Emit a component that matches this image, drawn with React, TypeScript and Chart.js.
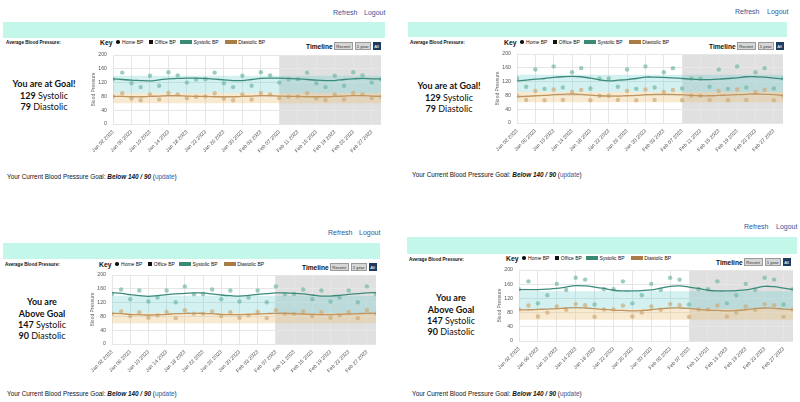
import React, { useEffect, useRef } from "react";
import { Chart, registerables } from "chart.js";
Chart.register(...registerables);

// ---------- data ----------
const readingDates = [
  "2023-01-02", "2023-01-04", "2023-01-06", "2023-01-08", "2023-01-10", "2023-01-12",
  "2023-01-14", "2023-01-16", "2023-01-18", "2023-01-20", "2023-01-22", "2023-01-24",
  "2023-01-26", "2023-01-28", "2023-01-30", "2023-02-01", "2023-02-03", "2023-02-05",
  "2023-02-07", "2023-02-09", "2023-02-11", "2023-02-13", "2023-02-15", "2023-02-17",
  "2023-02-19", "2023-02-21", "2023-02-23", "2023-02-25", "2023-02-27", "2023-03-01",
];
const axisStartDate = "2023-01-02";
const axisEndDate = "2023-03-01";
const recentStartDate = "2023-02-07";
const tickStepDays = 4;
const MONTHS = ["Jan", "Feb", "Mar", "Apr", "May", "Jun", "Jul", "Aug", "Sep", "Oct", "Nov", "Dec"];

const goalSystolic = 140;
const goalDiastolic = 90;
const diastolicFloor = 60;
const yTicks = [0, 40, 80, 120, 160, 200];

// Panel 1 (top-left)
const p1Systolic = [130, 149, 118, 107, 140, 111, 150, 141, 120, 129, 130, 149, 118, 107, 140, 111, 150, 141, 120, 129, 130, 149, 118, 107, 140, 111, 150, 141, 120, 129];
const p1Diastolic = [80, 89, 74, 69, 86, 71, 90, 86, 75, 79, 80, 89, 74, 69, 86, 71, 90, 86, 75, 79, 80, 89, 74, 69, 86, 71, 90, 86, 75, 79];
const p1SysTrend = [131, 129, 127, 126, 125, 128, 131, 132, 133, 133, 132, 130, 128, 126, 126, 129, 132, 133, 133, 132, 131, 129, 127, 126, 126, 129, 131, 132, 131, 131];
const p1DiaTrend = [80, 80, 79, 79, 80, 81, 82, 82, 81, 80, 80, 79, 79, 79, 80, 81, 82, 82, 81, 80, 80, 79, 79, 79, 80, 81, 82, 82, 81, 80];

// Panel 2 (top-right)
const p2Systolic = [129, 105, 155, 99, 164, 103, 147, 159, 100, 129, 129, 105, 155, 99, 164, 103, 147, 159, 100, 129, 129, 105, 155, 99, 164, 103, 147, 159, 100, 129];
const p2Diastolic = [79, 67, 93, 66, 97, 67, 90, 96, 66, 79, 79, 67, 93, 66, 97, 67, 90, 96, 66, 79, 79, 67, 93, 66, 97, 67, 90, 96, 66, 79];
const p2SysTrend = [122, 124, 127, 129, 132, 134, 135, 134, 130, 125, 122, 124, 126, 129, 133, 133, 132, 131, 129, 127, 126, 126, 127, 129, 131, 134, 134, 133, 130, 128];
const p2DiaTrend = [76, 77, 79, 80, 82, 83, 84, 83, 81, 79, 78, 78, 79, 80, 82, 83, 83, 83, 82, 80, 79, 79, 80, 81, 82, 83, 84, 83, 82, 80];

// Panel 3 (bottom-left)
const p3Systolic = [145, 158, 130, 155, 123, 135, 155, 121, 167, 144, 145, 158, 130, 155, 123, 135, 155, 121, 167, 144, 145, 158, 130, 155, 123, 135, 155, 121, 167, 144];
const p3Diastolic = [88, 94, 81, 92, 76, 83, 93, 75, 98, 88, 88, 94, 81, 92, 76, 83, 93, 75, 98, 88, 88, 94, 81, 92, 76, 83, 93, 75, 98, 88];
const p3SysTrend = [149, 147, 143, 140, 138, 140, 143, 145, 147, 148, 148, 145, 142, 140, 139, 141, 144, 146, 148, 148, 147, 145, 142, 139, 139, 141, 144, 146, 148, 149];
const p3DiaTrend = [89, 88, 86, 85, 84, 85, 86, 88, 89, 89, 89, 88, 86, 85, 85, 86, 87, 88, 89, 89, 88, 87, 86, 85, 85, 86, 87, 88, 89, 89];

// Panel 4 (bottom-right)
const p4Systolic = [146, 168, 106, 129, 161, 144, 178, 173, 103, 146, 146, 168, 106, 129, 161, 144, 178, 173, 103, 146, 146, 168, 106, 129, 161, 144, 178, 173, 103, 146];
const p4Diastolic = [89, 100, 69, 80, 97, 88, 104, 101, 68, 89, 89, 100, 69, 80, 97, 88, 104, 101, 68, 89, 89, 100, 69, 80, 97, 88, 104, 101, 68, 89];
const p4SysTrend = [145, 145, 145, 146, 148, 152, 156, 155, 152, 148, 143, 141, 141, 142, 144, 149, 154, 155, 152, 148, 143, 141, 141, 142, 144, 149, 154, 153, 149, 145];
const p4DiaTrend = [88, 88, 89, 90, 91, 93, 94, 93, 91, 89, 87, 86, 85, 86, 88, 91, 93, 93, 92, 89, 87, 86, 85, 86, 88, 91, 93, 92, 90, 88];

const atGoalLines = ["You are at Goal!"];
const aboveGoalLines = ["You are", "Above Goal"];

// ---------- helpers ----------
const DAY = 86400000;
const parseUTC = (s: string) => {
  const [y, m, d] = s.split("-").map(Number);
  return Date.UTC(y, m - 1, d);
};
const dayIndex = (s: string) => Math.round((parseUTC(s) - parseUTC(axisStartDate)) / DAY);
const fmtTick = (v: number) => {
  const d = new Date(parseUTC(axisStartDate) + v * DAY);
  const dd = String(d.getUTCDate()).padStart(2, "0");
  return `${MONTHS[d.getUTCMonth()]} ${dd} ${d.getUTCFullYear()}`;
};

const SANS = "'Liberation Sans', Arial, Helvetica, sans-serif";
const LINK = "#34589a";

const panels = [
  {
    sys: p1Systolic, dia: p1Diastolic, sysT: p1SysTrend, diaT: p1DiaTrend,
    status: atGoalLines, avgSys: 129, avgDia: 79,
    L: {
      plot: { l: 113, r: 381, t: 55, b: 124 }, refresh: { x: 333, y: 12 }, logout: { x: 364, y: 12 },
      mint: { x: 3, y: 22, w: 382, h: 16 }, avg: { x: 6, y: 42 }, key: { x: 100, y: 42 },
      timeline: { x: 306, y: 46 }, status: { cx: 44, y: 84, gap: 11.5 }, goal: { x: 7, y: 177 },
    },
  },
  {
    sys: p2Systolic, dia: p2Diastolic, sysT: p2SysTrend, diaT: p2DiaTrend,
    status: atGoalLines, avgSys: 129, avgDia: 79,
    L: {
      plot: { l: 517, r: 783, t: 54, b: 123 }, refresh: { x: 735, y: 11 }, logout: { x: 767, y: 11 },
      mint: { x: 408, y: 22, w: 379, h: 15 }, avg: { x: 410, y: 42 }, key: { x: 504, y: 42 },
      timeline: { x: 709, y: 46 }, status: { cx: 449, y: 86, gap: 11.5 }, goal: { x: 412, y: 175 },
    },
  },
  {
    sys: p3Systolic, dia: p3Diastolic, sysT: p3SysTrend, diaT: p3DiaTrend,
    status: aboveGoalLines, avgSys: 147, avgDia: 90,
    L: {
      plot: { l: 112, r: 376, t: 275, b: 344 }, refresh: { x: 328, y: 232 }, logout: { x: 359, y: 232 },
      mint: { x: 3, y: 243, w: 377, h: 16 }, avg: { x: 5, y: 264 }, key: { x: 99, y: 264 },
      timeline: { x: 302, y: 267 }, status: { cx: 42, y: 302, gap: 11.3 }, goal: { x: 7, y: 394 },
    },
  },
  {
    sys: p4Systolic, dia: p4Diastolic, sysT: p4SysTrend, diaT: p4DiaTrend,
    status: aboveGoalLines, avgSys: 147, avgDia: 90,
    L: {
      plot: { l: 519, r: 793, t: 270, b: 341 }, refresh: { x: 744, y: 226 }, logout: { x: 776, y: 226 },
      mint: { x: 407, y: 237, w: 390, h: 17 }, avg: { x: 409, y: 259 }, key: { x: 506, y: 258 },
      timeline: { x: 716, y: 262 }, status: { cx: 451, y: 298, gap: 11.3 }, goal: { x: 412, y: 394 },
    },
  },
];

const Y_AXIS_W = 24;
const X_AXIS_H = 40;
const PAD_T = 6;
const PAD_R = 4;

const shadePlugin = {
  id: "recentShade",
  beforeDraw(chart: any) {
    const { ctx, chartArea, scales } = chart;
    const x0 = scales.x.getPixelForValue(dayIndex(recentStartDate));
    ctx.save();
    ctx.fillStyle = "#e0e0e0";
    ctx.fillRect(x0, chartArea.top, chartArea.right - x0, chartArea.bottom - chartArea.top);
    ctx.restore();
  },
};

function BPChart({ p }: { p: any }) {
  const ref = useRef<HTMLCanvasElement>(null);
  const { plot } = p.L;
  const w = plot.r - plot.l + Y_AXIS_W + PAD_R;
  const h = plot.b - plot.t + PAD_T + X_AXIS_H;
  useEffect(() => {
    const xs = readingDates.map(dayIndex);
    const first = dayIndex(axisStartDate);
    const last = dayIndex(axisEndDate);
    const pts = (arr: number[]) => arr.map((y, i) => ({ x: xs[i], y }));
    const band = (v: number) => [{ x: first, y: v }, { x: last, y: v }];
    const tickFont = { size: 5.2, family: SANS };
    const chart = new Chart(ref.current!, {
      type: "line",
      data: {
        datasets: [
          { data: pts(p.sysT), borderColor: "#3b8b7b", borderWidth: 1.3, pointRadius: 0, tension: 0.4, fill: false, order: 1 } as any,
          { data: pts(p.diaT), borderColor: "#bf9560", borderWidth: 1.3, pointRadius: 0, tension: 0.4, fill: false, order: 1 },
          { data: pts(p.sys), showLine: false, pointRadius: 2.2, pointBorderWidth: 0, pointBackgroundColor: "rgba(118,186,166,0.72)", order: 2 },
          { data: pts(p.dia), showLine: false, pointRadius: 2.2, pointBorderWidth: 0, pointBackgroundColor: "rgba(206,172,122,0.72)", order: 2 },
          { data: band(goalSystolic), borderWidth: 0, pointRadius: 0, fill: { value: goalDiastolic }, backgroundColor: "rgba(96,206,200,0.28)", order: 10 },
          { data: band(goalDiastolic), borderWidth: 0, pointRadius: 0, fill: { value: diastolicFloor }, backgroundColor: "rgba(232,190,115,0.33)", order: 10 },
        ],
      },
      options: {
        animation: false,
        responsive: false,
        maintainAspectRatio: false,
        layout: { padding: { top: PAD_T, right: PAD_R, left: 0, bottom: 0 } },
        plugins: { legend: { display: false }, tooltip: { enabled: false } },
        scales: {
          x: {
            type: "linear",
            min: first,
            max: last,
            afterFit: (s: any) => { s.height = X_AXIS_H; s.paddingLeft = 0; s.paddingRight = 0; },
            ticks: {
              stepSize: tickStepDays, includeBounds: false, autoSkip: false,
              minRotation: 45, maxRotation: 45, padding: 5, font: tickFont, color: "#555",
              callback: (v: any) => fmtTick(Number(v)),
            },
            grid: { color: "#e6e6e6", drawTicks: false, lineWidth: 1 },
            border: { display: false },
          },
          y: {
            min: yTicks[0],
            max: yTicks[yTicks.length - 1],
            afterFit: (s: any) => { s.width = Y_AXIS_W; s.paddingTop = 0; s.paddingBottom = 0; },
            afterBuildTicks: (s: any) => { s.ticks = yTicks.map((v) => ({ value: v })); },
            ticks: { padding: 6, font: tickFont, color: "#555" },
            title: { display: true, text: "Blood Pressure", font: { size: 5, family: SANS }, color: "#666", padding: { top: 2, bottom: 0 } },
            grid: { color: "#e6e6e6", drawTicks: false, lineWidth: 1 },
            border: { display: false },
          },
        },
      } as any,
      plugins: [shadePlugin],
    });
    return () => chart.destroy();
  }, []);
  return (
    <canvas
      ref={ref}
      width={w}
      height={h}
      style={{ position: "absolute", left: plot.l - Y_AXIS_W, top: plot.t - PAD_T, width: w, height: h }}
    />
  );
}

function Txt({ x, y, size, children, style }: any) {
  const lh = Math.ceil(size * 1.5);
  return (
    <div
      style={{
        position: "absolute", left: x, top: y - lh / 2, height: lh, lineHeight: `${lh}px`,
        fontSize: size, whiteSpace: "nowrap", fontFamily: SANS, color: "#111", ...style,
      }}
    >
      {children}
    </div>
  );
}

function Panel({ p }: { p: any }) {
  const L = p.L;
  const statusLines = [...p.status];
  const btn = (label: string, w: number, active: boolean) => (
    <div
      style={{
        width: w, height: 8, boxSizing: "border-box", fontSize: 4.3, lineHeight: "7px", textAlign: "center",
        background: active ? "#1e3a5f" : "#d6d6d6", color: active ? "#fff" : "#333",
        border: active ? "0.5px solid #1e3a5f" : "0.5px solid #9a9a9a", fontFamily: SANS,
      }}
    >
      {label}
    </div>
  );
  return (
    <>
      <Txt x={L.refresh.x} y={L.refresh.y} size={7} style={{ color: LINK }}>Refresh</Txt>
      <Txt x={L.logout.x} y={L.logout.y} size={7} style={{ color: LINK }}>Logout</Txt>
      <div style={{ position: "absolute", left: L.mint.x, top: L.mint.y, width: L.mint.w, height: L.mint.h, background: "#c3f7e9" }} />
      <Txt x={L.avg.x} y={L.avg.y} size={4.6} style={{ fontWeight: 700 }}>Average Blood Pressure:</Txt>
      <div
        style={{
          position: "absolute", left: L.key.x, top: L.key.y - 5, height: 10, display: "flex", alignItems: "center",
          fontFamily: SANS, fontSize: 5, color: "#111", whiteSpace: "nowrap",
        }}
      >
        <span style={{ fontWeight: 700, fontSize: 6.8, marginRight: 4 }}>Key</span>
        <span style={{ display: "inline-block", width: 3.6, height: 3.6, borderRadius: "50%", background: "#111", marginRight: 2 }} />
        <span style={{ marginRight: 6 }}>Home BP</span>
        <span style={{ display: "inline-block", width: 3.4, height: 3.4, background: "#111", marginRight: 2 }} />
        <span style={{ marginRight: 4 }}>Office BP</span>
        <span style={{ display: "inline-block", width: 12, height: 4.5, background: "#3a8a76", marginRight: 1.5 }} />
        <span style={{ marginRight: 6 }}>Systolic BP</span>
        <span style={{ display: "inline-block", width: 12, height: 4.5, background: "#a97b47", marginRight: 1.5 }} />
        <span>Diastolic BP</span>
      </div>
      <div
        style={{
          position: "absolute", left: L.timeline.x, top: L.timeline.y - 5, height: 10, display: "flex", alignItems: "center",
          fontFamily: SANS, whiteSpace: "nowrap", gap: 2,
        }}
      >
        <span style={{ fontWeight: 700, fontSize: 6.6, color: "#111", marginRight: -1 }}>Timeline</span>
        {btn("Recent", 19, false)}
        {btn("1 year", 16, false)}
        {btn("All", 8, true)}
      </div>
      <div
        style={{
          position: "absolute", left: L.status.cx - 60, width: 120, top: L.status.y - L.status.gap / 2,
          textAlign: "center", fontFamily: "Lato, 'Open Sans', sans-serif", fontSize: 9,
          lineHeight: `${L.status.gap}px`, color: "#111",
        }}
      >
        {statusLines.map((s: string, i: number) => (
          <div key={i} style={{ fontWeight: 700 }}>{s}</div>
        ))}
        <div><b>{p.avgSys}</b> Systolic</div>
        <div><b>{p.avgDia}</b> Diastolic</div>
      </div>
      <BPChart p={p} />
      <Txt x={L.goal.x} y={L.goal.y} size={6.4}>
        Your Current Blood Pressure Goal: <b><i>Below {goalSystolic} / {goalDiastolic}</i></b> (
        <span style={{ color: LINK }}>update</span>)
      </Txt>
    </>
  );
}

export default function App() {
  return (
    <div style={{ position: "absolute", left: 0, top: 0, width: 800, height: 402, background: "#fff", overflow: "hidden" }}>
      {panels.map((p, i) => (
        <Panel key={i} p={p} />
      ))}
    </div>
  );
}
